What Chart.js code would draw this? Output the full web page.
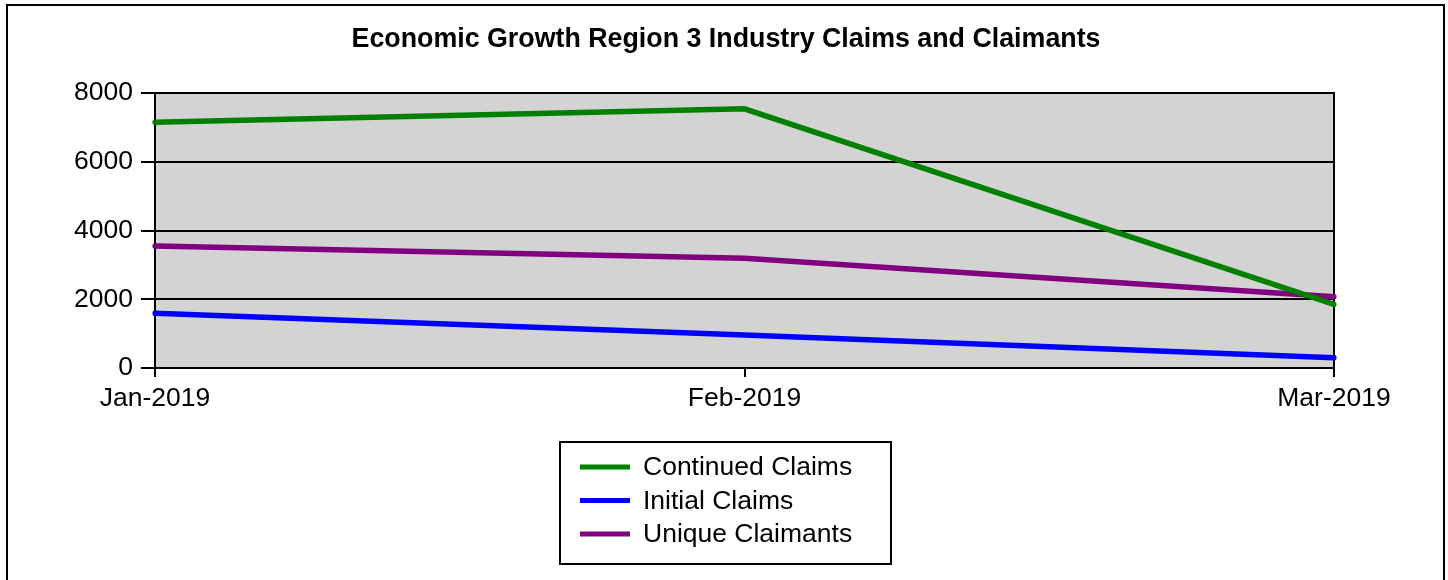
<!DOCTYPE html>
<html>
<head>
<meta charset="utf-8">
<script src="https://cdn.jsdelivr.net/npm/chart.js@4"></script>
<style>
  html, body { margin: 0; padding: 0; background: #fff; }
  #wrap { width: 1448px; height: 580px; position: relative; }
</style>
</head>
<body>
<div id="wrap"><canvas id="claims"></canvas></div>
<script>
// chart values
const months = ['Jan-2019', 'Feb-2019', 'Mar-2019'];
const continuedClaims = [7150, 7540, 1850];
const initialClaims = [1590, 960, 300];
const uniqueClaimants = [3550, 3190, 2070];
const seriesNames = ['Continued Claims', 'Initial Claims', 'Unique Claimants'];
const seriesColors = ['#008000', '#0000ff', '#800080'];
const chartTitle = 'Economic Growth Region 3 Industry Claims and Claimants';

const fontFamily = '"Liberation Sans", Arial, sans-serif';

// grey plot area, box round it, outer frame, title and boxed legend
const decorations = {
    id: 'decorations',
    beforeDatasetsDraw(chart) {
        const { ctx, chartArea: a } = chart;
        ctx.save();
        ctx.strokeStyle = '#000';
        ctx.lineWidth = 2;
        ctx.beginPath();
        ctx.moveTo(a.left, a.top);
        ctx.lineTo(a.right, a.top);
        ctx.lineTo(a.right, a.bottom);
        ctx.stroke();
        ctx.restore();
    },
    beforeDraw(chart) {
        const { ctx, chartArea: a } = chart;
        ctx.save();
        ctx.fillStyle = '#fff';
        ctx.fillRect(0, 0, chart.width, chart.height);
        ctx.fillStyle = '#d3d3d3';
        ctx.fillRect(a.left, a.top, a.right - a.left, a.bottom - a.top);
        ctx.restore();
    },
    afterDraw(chart) {
        const { ctx } = chart;
        ctx.save();
        // outer frame
        ctx.strokeStyle = '#000';
        ctx.lineWidth = 2;
        ctx.strokeRect(7, 5, 1437, 600);

        // title
        ctx.fillStyle = '#000';
        ctx.font = 'bold 26.8px ' + fontFamily;
        ctx.textAlign = 'center';
        ctx.textBaseline = 'middle';
        ctx.fillText(chartTitle, 726, 40);

        // legend
        ctx.lineWidth = 2;
        ctx.strokeRect(560, 442, 331, 122);
        ctx.font = '26.5px ' + fontFamily;
        ctx.textAlign = 'left';
        chart.data.datasets.forEach((ds, i) => {
            const y = 467 + i * 33.5;
            ctx.strokeStyle = ds.borderColor;
            ctx.lineWidth = 5;
            ctx.beginPath();
            ctx.moveTo(580, y);
            ctx.lineTo(630, y);
            ctx.stroke();
            ctx.fillStyle = '#000';
            ctx.fillText(ds.label, 643, y + 1);
        });
        ctx.restore();
    }
};

const seriesData = [continuedClaims, initialClaims, uniqueClaimants];

new Chart(document.getElementById('claims'), {
    type: 'line',
    data: {
        labels: months,
        datasets: seriesData.map((vals, i) => ({
            label: seriesNames[i],
            data: vals,
            borderColor: seriesColors[i],
            backgroundColor: seriesColors[i],
            borderWidth: 5.5,
            borderCapStyle: 'round',
            pointRadius: 0,
            tension: 0,
            fill: false
        }))
    },
    options: {
        responsive: true,
        maintainAspectRatio: false,
        animation: false,
        layout: { padding: { left: 0, top: 93, right: 114, bottom: 172 } },
        plugins: {
            legend: { display: false },
            title: { display: false },
            tooltip: { enabled: false }
        },
        scales: {
            x: {
                offset: false,
                afterFit: s => { s.height = 40; },
                grid: { drawOnChartArea: false, drawTicks: true, tickLength: 9, color: '#000', lineWidth: 2 },
                border: { color: '#000', width: 2 },
                ticks: { color: '#000', font: { family: fontFamily, size: 26.5 }, padding: 6, maxRotation: 0 }
            },
            y: {
                min: 0,
                max: 8000,
                afterFit: s => { s.width = 155; },
                grid: { color: '#000', lineWidth: 2, tickLength: 14 },
                border: { color: '#000', width: 2 },
                ticks: {
                    stepSize: 2000,
                    color: '#000',
                    font: { family: fontFamily, size: 26.5 },
                    padding: 8,
                    callback: v => String(v)
                }
            }
        }
    },
    plugins: [decorations]
});
</script>
</body>
</html>
